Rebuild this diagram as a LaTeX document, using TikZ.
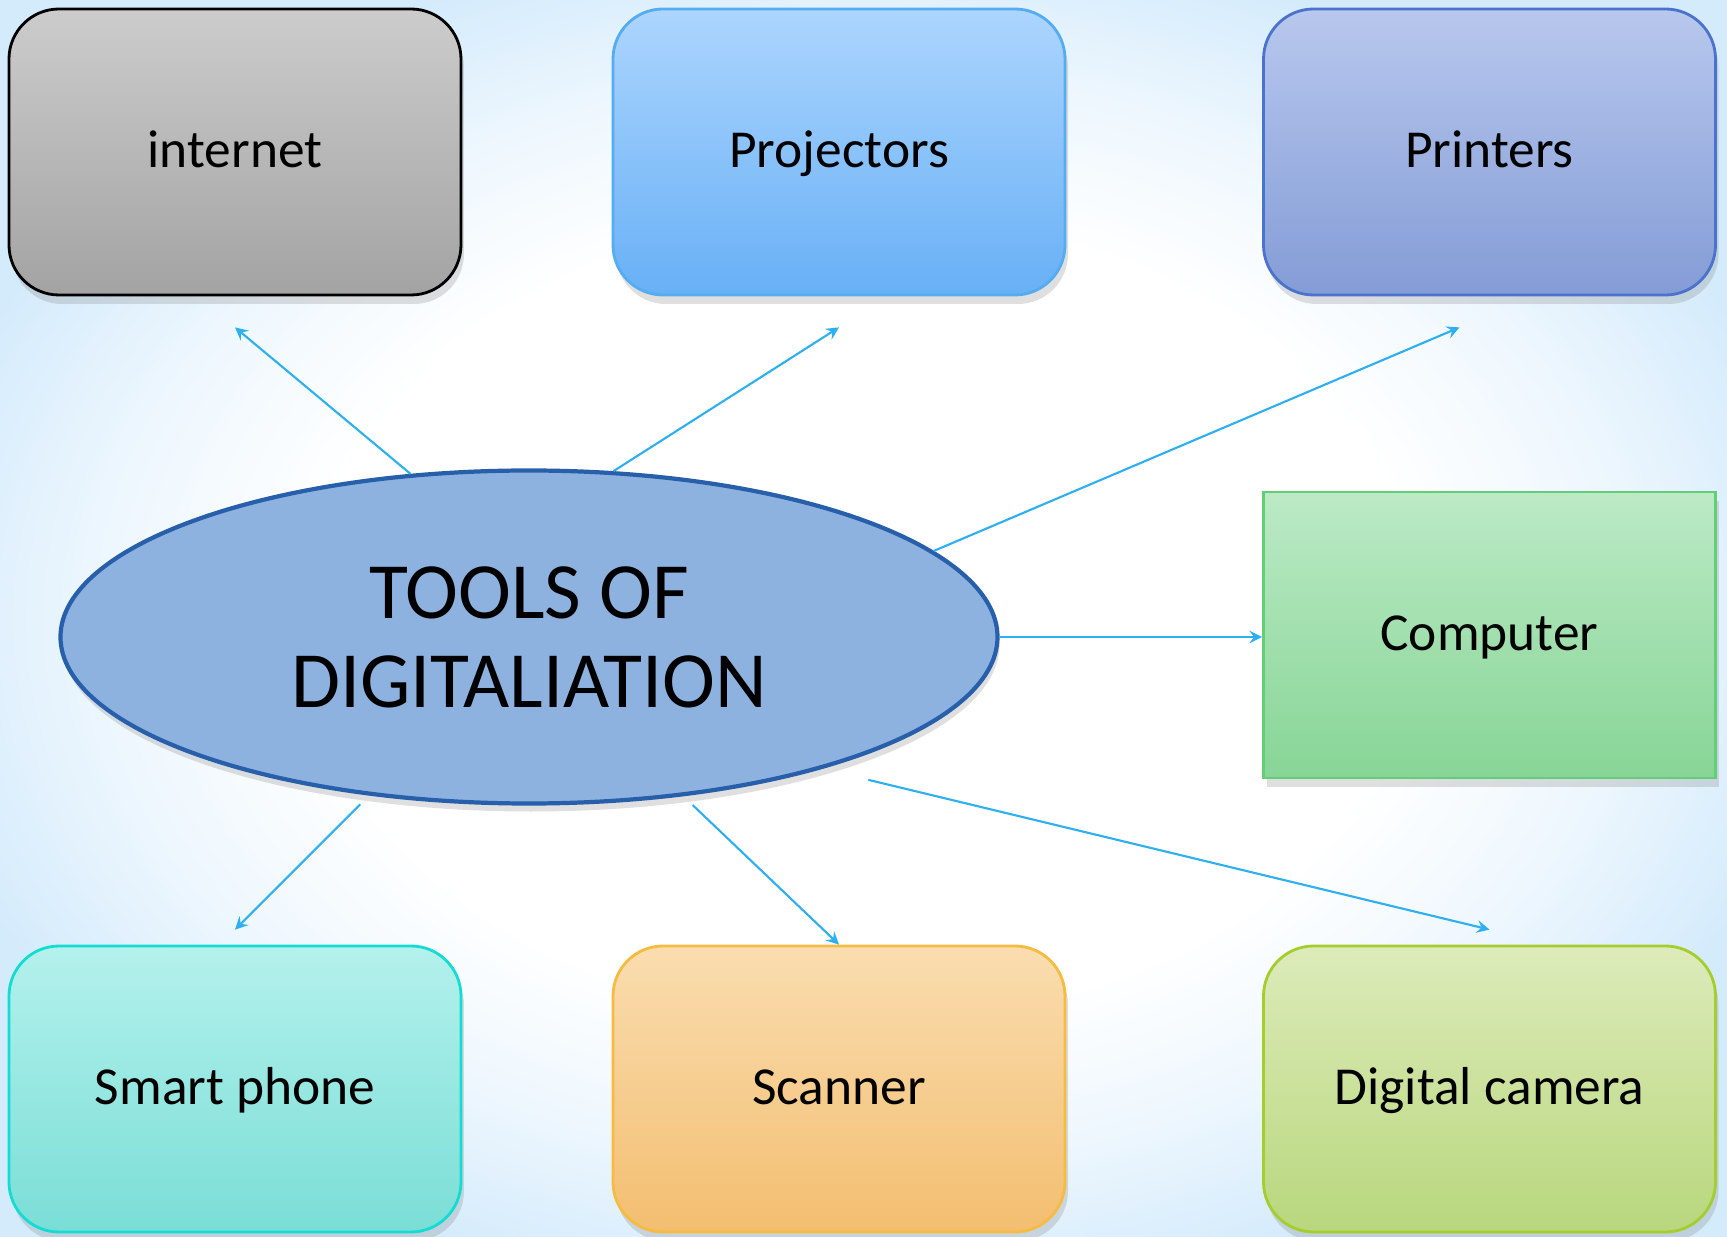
\documentclass[tikz,border=0pt]{standalone}
\usepackage{fontspec}
\setmainfont{Carlito}
\usepackage{tikz}
\usetikzlibrary{shapes.geometric,shadows}

\definecolor{bgblue}{RGB}{212,235,252}
\definecolor{linkblue}{RGB}{45,175,240}
\definecolor{ovalfill}{RGB}{142,178,224}
\definecolor{ovaldraw}{RGB}{40,95,170}
\pgfdeclareradialshading{glow}{\pgfpoint{0cm}{0cm}}{color(0bp)=(white);
  color(16bp)=(white); color(22bp)=(white!60!bgblue); color(28bp)=(bgblue);
  color(50bp)=(bgblue)}

\begin{document}
\begin{tikzpicture}[>=stealth,
    box/.style={draw, rectangle, rounded corners=0.5cm, minimum width=4.52cm,
      minimum height=2.86cm, line width=0.8pt, font=\fontsize{15.2}{18}\selectfont,
      text height=2.3ex, text depth=0.45ex,
      drop shadow={shadow xshift=0.03cm, shadow yshift=-0.09cm, opacity=0.25}},
    link/.style={->, draw=linkblue, line width=0.6pt}]
      \shade[shading=glow] (-5.29,6.37) rectangle (11.98,-5.99);
      \useasboundingbox (-5.29,6.37) rectangle (11.98,-5.99);

      \node [ellipse, draw=ovaldraw, fill=ovalfill, line width=1.2pt, inner sep=0pt,
        minimum width=9.37cm, minimum height=3.33cm, align=center,
        font=\fontsize{22.7}{25.3}\selectfont,
        drop shadow={shadow xshift=0.02cm, shadow yshift=-0.08cm, opacity=0.25}]
        (0) {TOOLS OF\\DIGITALIATION};
      \node [box, above of=0, xshift=-2.94cm, yshift=3.85cm, draw=black,
        top color=black!20, bottom color=black!36] (1) {internet};
      \node [box, right of=1, xshift=5.04cm, draw={rgb,255:red,85;green,172;blue,240},
        top color={rgb,255:red,172;green,213;blue,254},
        bottom color={rgb,255:red,104;green,176;blue,246}] (2) {Projectors};
      \node [box, right of=2, xshift=5.505cm, draw={rgb,255:red,75;green,115;blue,205},
        top color={rgb,255:red,184;green,200;blue,238},
        bottom color={rgb,255:red,132;green,156;blue,214}] (3) {Printers};
      \node [box, sharp corners, below of=3, yshift=-3.83cm,
        draw={rgb,255:red,100;green,205;blue,120},
        top color={rgb,255:red,188;green,234;blue,198},
        bottom color={rgb,255:red,135;green,213;blue,150}] (4) {Computer};
      \node [box, below of=1, yshift=-8.37cm, draw={rgb,255:red,20;green,220;blue,210},
        top color={rgb,255:red,180;green,241;blue,237},
        bottom color={rgb,255:red,122;green,222;blue,214}] (5) {Smart phone};
      \node [box, right of=5, xshift=5.04cm, draw={rgb,255:red,245;green,188;blue,65},
        top color={rgb,255:red,250;green,221;blue,176},
        bottom color={rgb,255:red,243;green,190;blue,112}] (6) {Scanner};
      \node [box, right of=6, xshift=5.505cm, draw={rgb,255:red,165;green,205;blue,45},
        top color={rgb,255:red,221;green,235;blue,186},
        bottom color={rgb,255:red,184;green,215;blue,125}] (7) {Digital camera};

      %% free ends of the arrows that stop short of the boxes
      \coordinate (1e) at ([yshift=-0.31cm]1.south);
      \coordinate (2e) at ([yshift=-0.31cm]2.south);
      \coordinate (3e) at ([xshift=-0.3cm,yshift=-0.31cm]3.south);
      \coordinate (5e) at ([yshift=0.15cm]5.north);
      \coordinate (7e) at ([yshift=0.15cm]7.north);

      \draw[link] (0.126.5) -- (1e);
      \draw[link] (0.63.6) -- (2e);
      \draw[link] (0.12) -- (3e);
      \draw[link] (0.east) -- (0.east -| 4.west);
      \draw[link] ([yshift=-0.1cm]0.223) -- (5e);
      \draw[link] ([yshift=-0.1cm]0.316) -- (6.north);
      \draw[link] ([yshift=-0.26cm]0.341) -- (7e);
    \end{tikzpicture}
\end{document}
